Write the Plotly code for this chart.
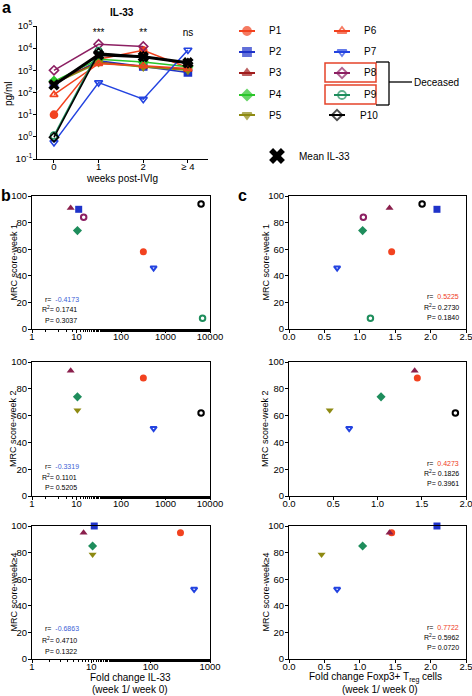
import plotly.graph_objects as go

# ---------------- data ----------------
weeks = ["0", "1", "2", "≥ 4"]
patients = ["P1", "P2", "P3", "P4", "P5", "P6", "P7", "P8", "P9", "P10"]

il33_P1 = [10, 3200, 8000, 1300]
il33_P2 = [250, 2700, 1500, 800]
il33_P3 = [300, 2300, 1500, 1100]
il33_P4 = [320, 3200, 2400, 1450]
il33_P5 = [250, 2200, 1400, 1000]
il33_P6 = [80, 2000, 1600, 1200]
il33_P7 = [0.56, 280, 50, 8300]
il33_P8 = [1000, 15000, 12000, None]
il33_P9 = [1.15, 7500, None, None]
il33_P10 = [0.95, 6000, 4200, 2100]
il33_mean = [220, 5000, 4100, 2200]
signif = ["", "***", "**", "ns"]

il33_exp = [-1, 0, 1, 2, 3, 4, 5]
il33_ticktext = ["10<sup>%d</sup>" % e for e in il33_exp]

scatter_patients = ["P1", "P2", "P3", "P4", "P5", "P7", "P8", "P9", "P10"]
fold_il33 = [318, 11.2, 7.4, 10.5, 10.5, 540, 14.5, 6800, 6300]
fold_treg = [1.45, 2.09, 1.42, 1.04, 0.46, 0.68, 1.05, 1.15, 1.88]
mrc_week1 = [58, 90, 91, 74, None, 46, 84, 8, 94]
mrc_week2 = [88, None, 93.5, 74, 64, 50.5, None, None, 62]
mrc_week4 = [95, 100, 95, 85, 78.5, 52.5, None, None, None]

stats_il33 = [("-0.4173", "0.1741", "0.3037"),
              ("-0.3319", "0.1101", "0.5205"),
              ("-0.6863", "0.4710", "0.1322")]
stats_treg = [("0.5225", "0.2730", "0.1840"),
              ("0.4273", "0.1826", "0.3961"),
              ("0.7722", "0.5962", "0.0720")]
mrc_titles = ["MRC score-week 1", "MRC score-week 2", "MRC score-week\u22654"]
log_tickvals = [1, 10, 100, 1000, 10000]
log_ticktext = ["1", "10", "100", "1000", "10000"]

il33 = dict(zip(patients, [il33_P1, il33_P2, il33_P3, il33_P4, il33_P5,
                           il33_P6, il33_P7, il33_P8, il33_P9, il33_P10]))

# ---------------- style ----------------
W, H = 472, 696
FONT = "Liberation Sans, Arial, Helvetica, sans-serif"
col_a = {"P1": "#f2421f", "P2": "#1f33c9", "P3": "#a11d1d", "P4": "#2ac52a",
         "P5": "#8e8a12", "P6": "#f2421f", "P7": "#2343e0", "P8": "#8c1f62",
         "P9": "#1e8d5c", "P10": "#000000"}
col_s = dict(col_a, P3="#8a1f4c", P4="#1e8d5c")
sym_a = {"P1": "circle", "P2": "square", "P3": "triangle-up", "P4": "diamond",
         "P5": "triangle-down", "P6": "triangle-up-open", "P7": "triangle-down-open",
         "P8": "diamond-open", "P9": "circle-open", "P10": "diamond-open"}
sym_s = dict(sym_a, P8="circle-open", P10="circle-open")


def fx(p):
    return p / W


def fy(p):
    return 1 - p / H


fig = go.Figure()

# ---------------- panel a ----------------
for p in patients:
    fig.add_trace(go.Scatter(
        x=weeks, y=il33[p], mode="lines+markers", xaxis="x", yaxis="y",
        line=dict(color=col_a[p], width=1.5),
        marker=dict(symbol=sym_a[p], size=7, color=col_a[p],
                    line=dict(width=1.6, color=col_a[p])),
        showlegend=False, connectgaps=False, cliponaxis=False))
fig.add_trace(go.Scatter(
    x=weeks, y=il33_mean, mode="lines+markers", xaxis="x", yaxis="y",
    line=dict(color="black", width=3),
    marker=dict(symbol="x", size=10, color="black"), showlegend=False))
fig.add_trace(go.Scatter(
    x=weeks[1:], y=[4.8e4] * 3, mode="text", text=signif[1:], xaxis="x", yaxis="y",
    textposition="middle center", textfont=dict(size=10, color="black", family=FONT),
    showlegend=False, cliponaxis=False))

# ---------------- legend (hidden pixel axis) ----------------
leg_rows = [31, 52, 73, 95, 115]
leg_items = [("P1", 247, 0), ("P2", 247, 1), ("P3", 247, 2), ("P4", 247, 3), ("P5", 247, 4),
             ("P6", 342, 0), ("P7", 342, 1), ("P8", 342, 2), ("P9", 342, 3), ("P10", 337, 4)]
for name, cx, r in leg_items:
    yy = leg_rows[r]
    fig.add_trace(go.Scatter(
        x=[cx - 8, cx, cx + 8], y=[yy] * 3, mode="lines+markers", xaxis="x8", yaxis="y8",
        line=dict(color=col_a[name], width=2),
        marker=dict(symbol=sym_a[name], size=[0, 8, 0], color=col_a[name],
                    line=dict(width=1.8, color=col_a[name])),
        showlegend=False, hoverinfo="skip"))
fig.add_trace(go.Scatter(
    x=[277], y=[156], mode="markers", xaxis="x8", yaxis="y8",
    marker=dict(symbol="x", size=14, color="black"), showlegend=False, hoverinfo="skip"))

annotations = []
shapes = []
for name, cx, r in leg_items:
    annotations.append(dict(x=fx(cx + 20 if name != "P10" else cx + 21), y=fy(leg_rows[r]),
                            xref="paper", yref="paper", text=name, showarrow=False,
                            xanchor="left", yanchor="middle",
                            font=dict(size=10, family=FONT, color="black")))
annotations.append(dict(x=fx(297), y=fy(156), xref="paper", yref="paper", text="Mean IL-33",
                        showarrow=False, xanchor="left", yanchor="middle",
                        font=dict(size=10, family=FONT, color="black")))
annotations.append(dict(x=fx(412), y=fy(82), xref="paper", yref="paper", text="Deceased",
                        showarrow=False, xanchor="left", yanchor="middle",
                        font=dict(size=10, family=FONT, color="black")))
for (y0, y1) in [(63, 82), (85, 104)]:
    shapes.append(dict(type="rect", xref="paper", yref="paper", x0=fx(325), x1=fx(376),
                       y0=fy(y0), y1=fy(y1), line=dict(color="#e5432a", width=1.5)))
bracket = [(376, 62, 389, 62), (389, 62, 389, 105), (376, 105, 389, 105), (389, 82, 412, 82)]
for x0, y0, x1, y1 in bracket:
    shapes.append(dict(type="line", xref="paper", yref="paper", x0=fx(x0), x1=fx(x1),
                       y0=fy(y0), y1=fy(y1), line=dict(color="black", width=1.3)))

# ---------------- panels b and c ----------------
mrc_sets = [mrc_week1, mrc_week2, mrc_week4]
b_axes = [("x2", "y2"), ("x3", "y3"), ("x4", "y4")]
c_axes = [("x5", "y5"), ("x6", "y6"), ("x7", "y7")]
for k in range(3):
    for i, p in enumerate(scatter_patients):
        yv = mrc_sets[k][i]
        if yv is None:
            continue
        for xs, (xa, ya) in [(fold_il33, b_axes[k]), (fold_treg, c_axes[k])]:
            openm = sym_s[p].endswith("open")
            fig.add_trace(go.Scatter(
                x=[xs[i]], y=[yv], mode="markers", xaxis=xa, yaxis=ya,
                marker=dict(symbol=sym_s[p], size=5.5 if openm else 7, color=col_s[p],
                            line=dict(width=2 if openm else 0, color=col_s[p])),
                showlegend=False, cliponaxis=False))

# ---------------- axes ----------------
ax_common = dict(showline=True, linecolor="black", linewidth=1, ticks="outside",
                 ticklen=3, tickwidth=1, tickcolor="black", showgrid=False, zeroline=False,
                 automargin=False, ticklabeloverflow="allow",
                 tickfont=dict(size=9.5, family=FONT, color="black"))
xstand = dict(ticklabelstandoff=-4)
ystand = dict(ticklabelstandoff=-1)

layout = dict(
    width=W, height=H, margin=dict(l=0, r=0, t=0, b=0),
    paper_bgcolor="white", plot_bgcolor="rgba(0,0,0,0)", showlegend=False,
    font=dict(family=FONT, color="black"),
    xaxis=dict(ax_common, **xstand, domain=[fx(37), fx(208)], type="category",
               range=[-0.38, 3.45], anchor="y"),
    yaxis=dict(ax_common, **ystand, domain=[fy(159), fy(26)], type="log", range=[-1, 5],
               tickmode="array", tickvals=[10.0 ** e for e in il33_exp],
               ticktext=il33_ticktext, anchor="x"),
    xaxis8=dict(domain=[0, 1], range=[0, W], visible=False, anchor="y8", fixedrange=True,
                automargin=False),
    yaxis8=dict(domain=[0, 1], range=[H, 0], visible=False, anchor="x8", fixedrange=True,
                automargin=False),
)

b_y = [(196, 329), (362, 496), (526, 659)]
for k in range(3):
    top, bot = b_y[k]
    xb = "xaxis%d" % (k + 2)
    yb = "yaxis%d" % (k + 2)
    xc = "xaxis%d" % (k + 5)
    yc = "yaxis%d" % (k + 5)
    nmax = 4 if k < 2 else 3
    layout[xb] = dict(ax_common, **xstand, domain=[fx(32), fx(210)], type="log",
                      range=[0, nmax],
                      tickmode="array", tickvals=log_tickvals[:nmax + 1],
                      ticktext=log_ticktext[:nmax + 1],
                      mirror=True, anchor="y%d" % (k + 2),
                      minor=dict(ticks="outside", ticklen=2, tickcolor="black",
                                 showgrid=False))
    layout[yb] = dict(ax_common, **ystand, domain=[fy(bot), fy(top)], range=[0, 100],
                      dtick=20, mirror=True, anchor="x%d" % (k + 2))
    cmax = 2.0 if k == 1 else 2.5
    layout[xc] = dict(ax_common, **xstand, domain=[fx(289), fx(466)], range=[0, cmax],
                      dtick=0.5, tickformat=".1f", mirror=True, anchor="y%d" % (k + 5))
    layout[yc] = dict(ax_common, **ystand, domain=[fy(bot), fy(top)], range=[0, 100],
                      dtick=20, mirror=True, anchor="x%d" % (k + 5))
    mid = (top + bot) / 2
    for xpos in (13, 265):
        annotations.append(dict(x=fx(xpos), y=fy(mid), xref="paper", yref="paper",
                                text=mrc_titles[k], textangle=-90, showarrow=False,
                                xanchor="center", yanchor="middle",
                                font=dict(size=9, family=FONT, color="black")))

# stats text
b_stat_y = [(299, 309, 320), (466, 477, 487), (628, 640, 651)]
c_stat_y = [(296, 307, 317), (463, 473, 483), (627, 637, 647)]
sfont = dict(size=7, family=FONT, color="black")
for k in range(3):
    r, r2, pv = stats_il33[k]
    texts = ["r=  <span style='color:#3d5fd6'>%s</span>" % r, "R<sup>2</sup>= %s" % r2,
             "P= %s" % pv]
    xs = [43, 40, 43]
    for t, xx, yy in zip(texts, xs, b_stat_y[k]):
        annotations.append(dict(x=fx(xx), y=fy(yy), xref="paper", yref="paper", text=t,
                                showarrow=False, xanchor="left", yanchor="middle", font=sfont))
    r, r2, pv = stats_treg[k]
    texts = ["r=  <span style='color:#ee3a22'>%s</span>" % r, "R<sup>2</sup>= %s" % r2,
             "P= %s" % pv]
    for t, yy in zip(texts, c_stat_y[k]):
        annotations.append(dict(x=fx(461), y=fy(yy), xref="paper", yref="paper", text=t,
                                showarrow=False, xanchor="right", yanchor="middle", font=sfont))

# titles and labels
tfont = dict(size=10, family=FONT, color="black")
annotations += [
    dict(x=fx(122), y=fy(12), text="<b>IL-33</b>", font=tfont),
    dict(x=fx(8), y=fy(94), text="pg/ml", textangle=-90, font=tfont),
    dict(x=fx(122), y=fy(178), text="weeks post-IVIg", font=tfont),
    dict(x=fx(130), y=fy(677), text="Fold change IL-33", font=tfont),
    dict(x=fx(130), y=fy(689), text="(week 1/ week 0)", font=tfont),
    dict(x=fx(375), y=fy(677), text="Fold change Foxp3+ T<sub>reg</sub> cells", font=tfont),
    dict(x=fx(380), y=fy(689), text="(week 1/ week 0)", font=tfont),
]
for a in annotations[-7:]:
    a.update(xref="paper", yref="paper", showarrow=False, xanchor="center", yanchor="middle")
lfont = dict(size=16, family=FONT, color="black")
for lab, xx, yy in [("a", 6, 7), ("b", 6, 196), ("c", 243, 196)]:
    annotations.append(dict(x=fx(xx), y=fy(yy), xref="paper", yref="paper",
                            text="<b>%s</b>" % lab, showarrow=False, xanchor="center",
                            yanchor="middle", font=lfont))

layout["annotations"] = annotations
layout["shapes"] = shapes
fig.update_layout(**layout)
fig.write_html("out.html", config={"displayModeBar": False},
               post_script="document.documentElement.style.margin='0';"
                           "document.body.style.margin='0';"
                           "document.body.style.overflow='hidden';")
